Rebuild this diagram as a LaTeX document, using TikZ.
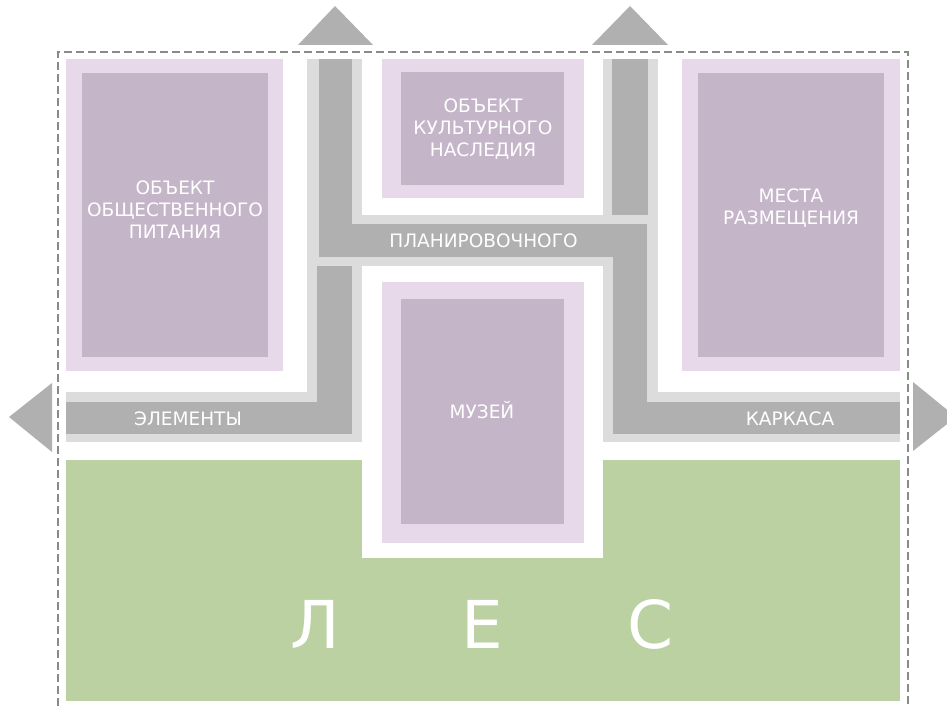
\documentclass[tikz,border=0pt]{standalone}
\usepackage{fontspec}
\setmainfont{DejaVu Sans}
\definecolor{lpurp}{HTML}{E8D9EA}
\definecolor{dpurp}{HTML}{C4B6C8}
\definecolor{lgray}{HTML}{DCDCDC}
\definecolor{dgray}{HTML}{B0B0B0}
\definecolor{leaf}{HTML}{BBD1A2}
\definecolor{frame}{HTML}{8A8A8A}
\tikzset{
  lbl/.style={text=white, font=\fontsize{18.5}{22}\selectfont, align=center, inner sep=0pt},
  biglbl/.style={text=white, font=\fontsize{66}{70}\selectfont, inner sep=0pt},
  frameline/.style={draw=frame, line width=2.4pt, dash pattern=on 8pt off 4pt},
  arrowtri/.style={fill=dgray, draw=none}
}
\begin{document}
\begin{tikzpicture}[x=1pt,y=-1pt]
\useasboundingbox (0,0) rectangle (947,706);
\begin{scope}
\clip (0,0) rectangle (947,706);
% forest
\fill[leaf] (66,460) rectangle (900,701);
\fill[white] (362,266) rectangle (603,558);
% light gray road envelope
\fill[lgray] (307,59) rectangle (362,442);
\fill[lgray] (603,59) rectangle (658,442);
\fill[lgray] (307,215) rectangle (658,266);
\fill[lgray] (66,392) rectangle (362,442);
\fill[lgray] (603,392) rectangle (900,442);
% dark gray roads
\fill[dgray] (319,59) rectangle (352,257);
\fill[dgray] (319,224) rectangle (647,257);
\fill[dgray] (612,59) rectangle (648,215);
\fill[dgray] (613,224) rectangle (647,434);
\fill[dgray] (613,402) rectangle (900,434);
\fill[dgray] (317,266) rectangle (352,434);
\fill[dgray] (66,402) rectangle (352,434);
% purple blocks
\fill[lpurp] (66,59) rectangle (283,371);
\fill[dpurp] (82,73) rectangle (268,357);
\fill[lpurp] (382,59) rectangle (584,198);
\fill[dpurp] (401,72) rectangle (564,185);
\fill[lpurp] (682,59) rectangle (900,371);
\fill[dpurp] (698,73) rectangle (884,357);
\fill[lpurp] (382,282) rectangle (584,543);
\fill[dpurp] (401,299) rectangle (564,524);
% frame
\draw[frameline] (58,706) -- (58,52) -- (908,52) -- (908,706);
% arrows
\fill[arrowtri] (298,45) -- (335,6) -- (373,45) -- cycle;
\fill[arrowtri] (592,45) -- (630,6) -- (668,45) -- cycle;
\fill[arrowtri] (52,383) -- (9,417) -- (52,452) -- cycle;
\fill[arrowtri] (913,382) -- (956,417) -- (913,451) -- cycle;
\end{scope}
% labels
\node[lbl] (food) at (175,209.5) {ОБЪЕКТ\\ОБЩЕСТВЕННОГО\\ПИТАНИЯ};
\node[lbl] (heritage) at (483,129) {ОБЪЕКТ\\КУЛЬТУРНОГО\\НАСЛЕДИЯ};
\node[lbl] (lodging) at (791,208) {МЕСТА\\РАЗМЕЩЕНИЯ};
\node[lbl] (museum) at (482,410) {МУЗЕЙ};
\node[lbl] (plan) at (483.5,241) {ПЛАНИРОВОЧНОГО};
\node[lbl] (elem) at (188,419) {ЭЛЕМЕНТЫ};
\node[lbl] (frm) at (790,419) {КАРКАСА};
\node[biglbl] (l1) at (315,624) {Л};
\node[biglbl] (l2) at (482,624) {Е};
\node[biglbl] (l3) at (651,624) {С};
\end{tikzpicture}
\end{document}
